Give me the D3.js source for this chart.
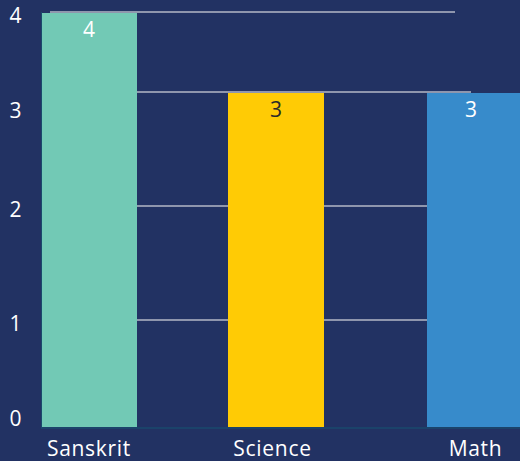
<!DOCTYPE html>
<html>
<head>
<meta charset="utf-8">
<script src="https://cdn.jsdelivr.net/npm/d3@7"></script>
<style>
  html, body { margin: 0; padding: 0; background: #223263; }
  svg { display: block; }
  text { font-family: 'Open Sans', Lato, sans-serif; }
</style>
</head>
<body>
<svg width="520" height="461"></svg>
<script>
const subjects = ['Sanskrit', 'Science', 'Math'];
const scores = [4, 3, 3];
const barColors = ['#72c9b5', '#ffcb05', '#378bcb'];
const labelColors = ['#ffffff', '#2a2a2a', '#ffffff'];
const yTicks = [0, 1, 2, 3, 4];

const svg = d3.select('svg');

// x positions of bars (uneven spacing in the original)
const xScale = d3.scaleOrdinal()
  .domain(subjects)
  .range([41, 228, 427]);
const barWidth = 96;

// the original y axis is not evenly spaced, so piecewise
const yScale = d3.scaleLinear()
  .domain([0, 1, 2, 3, 4])
  .range([427, 320, 206, 92, 12]);

// tick label baselines sit a bit off the grid lines
const yLabelScale = d3.scaleLinear()
  .domain([0, 1, 2, 3, 4])
  .range([426, 331, 217, 118, 23]);

// grid lines
svg.append('g')
  .selectAll('line')
  .data(yTicks.slice(1))
  .enter()
  .append('line')
  .attr('x1', 50)
  .attr('x2', (d) => d === 3 ? 471 : 455)
  .attr('y1', (d) => yScale(d))
  .attr('y2', (d) => yScale(d))
  .attr('stroke', '#b4b8c6')
  .attr('stroke-width', 1.3);

// bars
const bars = svg.append('g')
  .selectAll('g')
  .data(subjects)
  .enter()
  .append('g');

bars.append('rect')
  .attr('x', (d) => xScale(d))
  .attr('y', (d, i) => yScale(scores[i]) + 1)
  .attr('width', barWidth)
  .attr('height', (d, i) => yScale(0) - yScale(scores[i]) - 1)
  .attr('fill', (d, i) => barColors[i]);

// value labels inside bar top
bars.append('text')
  .attr('x', (d, i) => xScale(d) + barWidth / 2 + [0, 0, -4][i])
  .attr('y', (d, i) => yScale(scores[i]) + 25)
  .attr('text-anchor', 'middle')
  .attr('font-size', 21)
  .attr('fill', (d, i) => labelColors[i])
  .text((d, i) => scores[i]);

// axis lines
svg.append('line')
  .attr('x1', 41).attr('x2', 520)
  .attr('y1', yScale(0) + 1).attr('y2', yScale(0) + 1)
  .attr('stroke', '#1a4a6c')
  .attr('stroke-width', 1.5);

svg.append('line')
  .attr('x1', 41.5).attr('x2', 41.5)
  .attr('y1', yScale(4)).attr('y2', yScale(0) + 1)
  .attr('stroke', '#1a4a6c')
  .attr('stroke-width', 1);

// y tick labels
svg.append('g')
  .selectAll('text')
  .data(yTicks)
  .enter()
  .append('text')
  .attr('x', 15.5)
  .attr('y', (d) => yLabelScale(d))
  .attr('text-anchor', 'middle')
  .attr('font-size', 21)
  .attr('fill', '#ffffff')
  .text((d) => d);

// x category labels
svg.append('g')
  .selectAll('text')
  .data(subjects)
  .enter()
  .append('text')
  .attr('x', (d, i) => xScale(d) + barWidth / 2 + [0, -3.5, 0.5][i])
  .attr('y', 456)
  .attr('text-anchor', 'middle')
  .attr('font-size', 21)
  .attr('letter-spacing', 0.7)
  .attr('fill', '#ffffff')
  .text((d) => d);
</script>
</body>
</html>
